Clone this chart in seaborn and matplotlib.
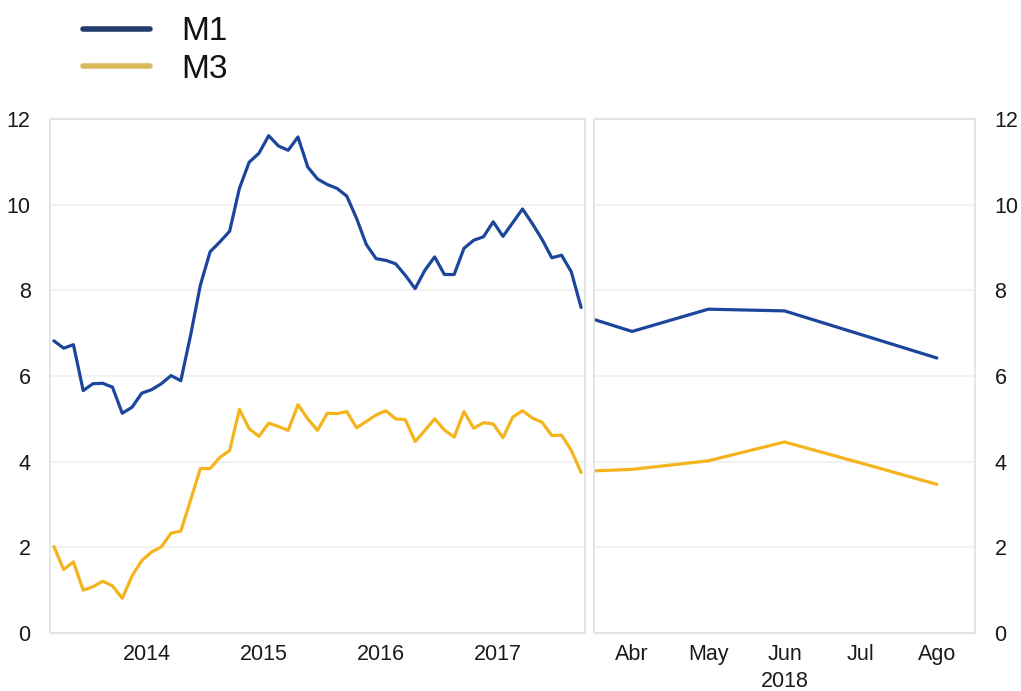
import pandas as pd
import numpy as np
import matplotlib.pyplot as plt
import seaborn as sns
from matplotlib.lines import Line2D

# monthly data, Sep 2013 - Mar 2018 (left panel)
m1_hist = [6.82, 6.65, 6.73, 5.66, 5.82, 5.83, 5.74, 5.13, 5.27, 5.60,
           5.68, 5.82, 6.01, 5.89, 6.95, 8.12, 8.90, 9.13, 9.38, 10.38,
           10.99, 11.20, 11.61, 11.37, 11.27, 11.58, 10.88, 10.60, 10.47, 10.38,
           10.20, 9.68, 9.07, 8.74, 8.70, 8.62, 8.35, 8.04, 8.47, 8.78,
           8.37, 8.37, 8.98, 9.17, 9.25, 9.60, 9.26, 9.58, 9.90, 9.56,
           9.19, 8.76, 8.82, 8.43, 7.60]
m3_hist = [2.02, 1.48, 1.66, 1.00, 1.08, 1.21, 1.10, 0.81, 1.33, 1.69,
           1.89, 2.01, 2.33, 2.38, 3.10, 3.84, 3.84, 4.10, 4.26, 5.22,
           4.77, 4.59, 4.90, 4.82, 4.73, 5.33, 5.00, 4.73, 5.13, 5.12,
           5.17, 4.79, 4.94, 5.09, 5.19, 5.00, 4.98, 4.47, 4.73, 5.00,
           4.74, 4.57, 5.17, 4.78, 4.91, 4.88, 4.56, 5.04, 5.19, 5.02,
           4.92, 4.61, 4.62, 4.26, 3.75]
year_labels = ["2014", "2015", "2016", "2017"]

# Mar - Ago 2018 (right panel)
months_2018 = ["Mar", "Abr", "May", "Jun", "Jul", "Ago"]
m1_2018 = [7.60, 7.04, 7.56, 7.52, 6.97, 6.42]
m3_2018 = [3.75, 3.82, 4.02, 4.46, 3.97, 3.47]

blue = "#1b469c"
gold = "#f4b41d"
frame = "#e3e3e3"

sns.set_style("white")
plt.rcParams["font.family"] = ["Liberation Sans", "DejaVu Sans"]

hist = pd.DataFrame({
    "t": np.tile(np.arange(len(m1_hist)), 2),
    "value": m1_hist + m3_hist,
    "serie": ["M1"] * len(m1_hist) + ["M3"] * len(m3_hist),
})
recent = pd.DataFrame({
    "t": np.tile(np.arange(len(months_2018)), 2),
    "value": m1_2018 + m3_2018,
    "serie": ["M1"] * len(m1_2018) + ["M3"] * len(m3_2018),
})
palette = {"M1": blue, "M3": gold}

fig = plt.figure(figsize=(10.21, 6.91), dpi=100)
ax1 = fig.add_axes([50 / 1021, 58 / 691, 535 / 1021, 514 / 691])
ax2 = fig.add_axes([594 / 1021, 58 / 691, 381 / 1021, 514 / 691])

sns.lineplot(data=hist, x="t", y="value", hue="serie", palette=palette,
             linewidth=2.3, legend=False, ax=ax1)
sns.lineplot(data=recent, x="t", y="value", hue="serie", palette=palette,
             linewidth=2.3, legend=False, ax=ax2)

ax1.set_xlim(-0.4, len(m1_hist) - 0.6)
ax2.set_xlim(0.5, len(months_2018) - 0.5)

for ax in (ax1, ax2):
    ax.set_ylim(0, 12)
    ax.set_yticks(np.arange(0, 13, 2))
    ax.grid(axis="y", color="#f0f0f0", linewidth=1.2)
    ax.set_axisbelow(True)
    for sp in ax.spines.values():
        sp.set_color(frame)
        sp.set_linewidth(1.3)
    ax.set_xlabel("")
    ax.set_ylabel("")
    ax.tick_params(length=0, labelsize=15.5, colors="#1a1a1a", pad=8)

ax1.set_xticks([9.5 + 12 * i for i in range(len(year_labels))])
ax1.set_xticklabels(year_labels)
ax1.tick_params(axis="y", pad=14)

ax2.set_xticks(np.arange(1, len(months_2018)))
ax2.set_xticklabels(months_2018[1:])
ax2.yaxis.tick_right()
ax2.tick_params(axis="y", labelleft=False, labelright=True, pad=14)
ax2.text(0.5, -0.073, "2018", transform=ax2.transAxes, ha="center", va="top",
         fontsize=15.5, color="#1a1a1a")

handles = [Line2D([], [], color="#223d6b", linewidth=4),
           Line2D([], [], color="#d9b95c", linewidth=4)]
fig.legend(handles, ["M1", "M3"], loc="upper left", bbox_to_anchor=(0.052, 1.02),
           frameon=False, fontsize=24, handlelength=2.0, handletextpad=0.95,
           labelspacing=0.2, labelcolor="#111111")

fig.savefig("out.png", dpi=100)
